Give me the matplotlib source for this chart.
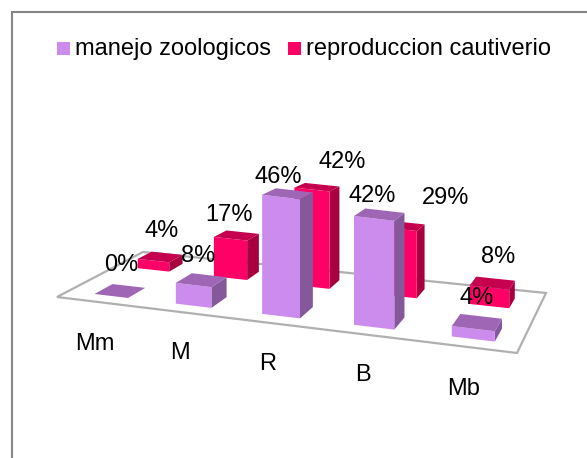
import matplotlib
matplotlib.use('Agg')
import matplotlib.pyplot as plt
from matplotlib.patches import Polygon, Rectangle
import numpy as np

plt.rcParams['font.family'] = ['Liberation Sans', 'DejaVu Sans']

categories = ['Mm', 'M', 'R', 'B', 'Mb']
manejo = [0, 8, 46, 42, 4]
reproduccion = [4, 17, 42, 29, 8]
series_names = ['manejo zoologicos', 'reproduccion cautiverio']

# colours: front, top, side
col_manejo = ('#cc8cee', '#9e66b4', '#84589a')
col_repro = ('#ff0066', '#c4004f', '#a8003f')

# floor corners in pixels (front left, front right, back right, back left)
floor_px = np.array([[57, 297], [517, 353], [546, 293], [143, 252]], dtype=float)


def homographie(src, dst):
	A = []
	for (x, y), (u, v) in zip(src, dst):
		A.append([x, y, 1, 0, 0, 0, -u*x, -u*y])
		A.append([0, 0, 0, x, y, 1, -v*x, -v*y])
	h = np.linalg.solve(np.array(A), np.array(dst).ravel())
	return np.append(h, 1).reshape(3, 3)


H = homographie([(0, 0), (5, 0), (5, 1), (0, 1)], floor_px)


def sol(u, v):
	p = H @ np.array([u, v, 1.0])
	return p[:2] / p[2]


def echelle(v):
	# pixels per percent, smaller at the back
	return 2.65 - 0.5*v


def point(u, v, val):
	p = sol(u, v)
	return (p[0], p[1] - val*echelle(v))


def barre(ax, u0, u1, v0, v1, val, cols):
	fl = point(u0, v0, 0)
	fr = point(u1, v0, 0)
	br = point(u1, v1, 0)
	tfl = point(u0, v0, val)
	tfr = point(u1, v0, val)
	tbr = point(u1, v1, val)
	tbl = point(u0, v1, val)
	ax.add_patch(Polygon([fr, br, tbr, tfr], fc=cols[2], ec='none'))
	ax.add_patch(Polygon([fl, fr, tfr, tfl], fc=cols[0], ec='none'))
	ax.add_patch(Polygon([tfl, tfr, tbr, tbl], fc=cols[1], ec='none'))


fig = plt.figure(figsize=(5.87, 4.58), dpi=100)
ax = fig.add_axes([0, 0, 1, 1])
ax.set_xlim(0, 587)
ax.set_ylim(458, 0)
ax.axis('off')

# chart frame
ax.add_patch(Rectangle((12, 12), 600, 470, fc='white', ec='#868686', lw=1.5))

# floor
ax.add_patch(Polygon(floor_px, closed=True, fc='white', ec='#b0b0b0', lw=1.6))

for i in range(len(categories)):
	uc = i + 0.5
	# back row first
	barre(ax, uc - 0.21, uc + 0.21, 0.66, 0.84, reproduccion[i], col_repro)
	barre(ax, uc - 0.17, uc + 0.25, 0.12, 0.32, manejo[i], col_manejo)

# label places
pos_manejo = [(121, 265), (198, 256), (278, 177), (372, 196), (477, 298)]
pos_repro = [(162, 231), (229, 215), (342, 162), (446, 198), (498, 257)]
pos_cat = [(95, 344), (180, 353), (268, 364), (363, 375), (464, 389)]

for i in range(len(categories)):
	ax.text(pos_manejo[i][0], pos_manejo[i][1], '%d%%' % manejo[i], ha='center', va='center', fontsize=17)
	ax.text(pos_repro[i][0], pos_repro[i][1], '%d%%' % reproduccion[i], ha='center', va='center', fontsize=17)
	ax.text(pos_cat[i][0], pos_cat[i][1], categories[i], ha='center', va='center', fontsize=17)

# legend
ax.add_patch(Rectangle((57, 42), 13, 13, fc=col_manejo[0], ec='none'))
ax.text(75, 49, series_names[0], ha='left', va='center', fontsize=17)
ax.add_patch(Rectangle((288, 42), 13, 13, fc=col_repro[0], ec='none'))
ax.text(306, 49, series_names[1], ha='left', va='center', fontsize=17)

fig.savefig('out.png', dpi=100)
